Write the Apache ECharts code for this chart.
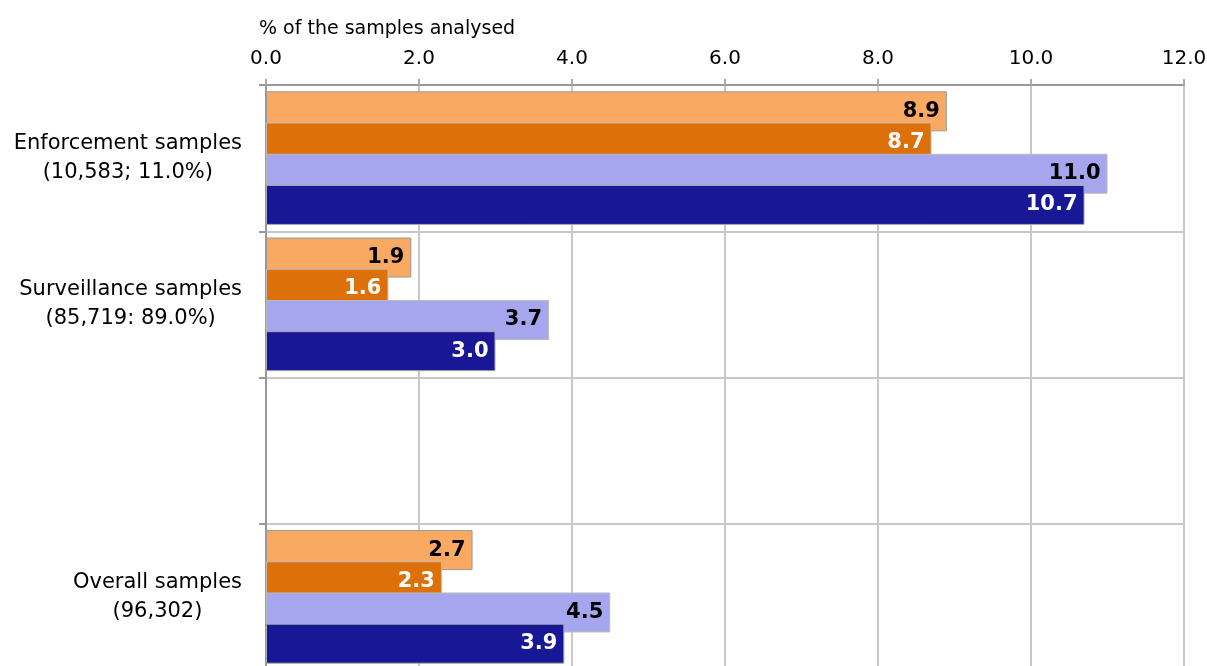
<!DOCTYPE html>
<html>
<head>
<meta charset="utf-8">
<script src="https://cdn.jsdelivr.net/npm/echarts@6/dist/echarts.min.js"></script>
<style>
html,body{margin:0;padding:0;background:#fff;}
#chart{width:1207px;height:666px;}
</style>
</head>
<body>
<div id="chart"></div>
<script>
const categories = [
  ["Enforcement samples", "(10,583; 11.0%)"],
  ["Surveillance samples", "(85,719: 89.0%)"],
  [""],
  ["Overall samples", "(96,302)"]
];
const seriesNames = ["Series 1", "Series 2", "Series 3", "Series 4"];
const series1 = [8.9, 1.9, null, 2.7];
const series2 = [8.7, 1.6, null, 2.3];
const series3 = [11.0, 3.7, null, 4.5];
const series4 = [10.7, 3.0, null, 3.9];
const xTicks = { min: 0, max: 12, interval: 2 };
const axisTitle = "% of the samples analysed";

const colors = ["#F9A962", "#DE7009", "#A6A6EF", "#181896"];
const labelColors = ["#000", "#fff", "#000", "#fff"];
const borderColors = ["#999", "#bbb", "#bbb", "#aaa"];
const allData = [series1, series2, series3, series4];

const FONT = "DejaVu Sans";
const chart = echarts.init(document.getElementById('chart'), null, { renderer: 'canvas' });

const series = allData.map((d, i) => ({
  name: seriesNames[i],
  type: 'bar',
  data: d,
  barWidth: 40,
  barGap: '-22%',
  itemStyle: { color: colors[i], borderColor: borderColors[i], borderWidth: 1 },
  label: {
    show: true,
    position: 'insideRight',
    distance: 7,
    color: labelColors[i],
    fontFamily: FONT,
    fontWeight: 'bold',
    fontSize: 21,
    formatter: p => (p.value == null ? '' : Number(p.value).toFixed(1))
  },
  animation: false
}));

chart.setOption({
  animation: false,
  backgroundColor: '#fff',
  title: {
    text: axisTitle,
    left: 254,
    top: 15,
    textStyle: { fontFamily: FONT, fontWeight: 'normal', fontSize: 19, color: '#000' }
  },
  grid: { left: 266, right: 23, top: 85, height: 585, containLabel: false, outerBoundsMode: 'none' },
  xAxis: {
    type: 'value',
    position: 'top',
    min: xTicks.min,
    max: xTicks.max,
    interval: xTicks.interval,
    axisLine: { show: true, lineStyle: { color: '#999', width: 2 } },
    axisTick: { show: true, length: 6, lineStyle: { color: '#aaa', width: 2 } },
    axisLabel: {
      margin: 16,
      fontFamily: FONT, fontSize: 20, color: '#000',
      formatter: v => v.toFixed(1)
    },
    splitLine: { show: true, lineStyle: { color: '#c8c8c8', width: 2 } }
  },
  yAxis: {
    type: 'category',
    inverse: true,
    data: categories.map(c => c.join('\n')),
    axisLine: { show: true, lineStyle: { color: '#999', width: 2 } },
    axisTick: { show: true, length: 7, lineStyle: { color: '#999', width: 2 } },
    splitLine: { show: true, lineStyle: { color: '#c8c8c8', width: 2 } },
    axisLabel: {
      margin: 24,
      align: 'right',
      formatter: v => v.split('\n').map(l => '{c|' + l + '}').join('\n'),
      rich: {
        c: { align: 'center', fontFamily: FONT, fontSize: 21, lineHeight: 29, color: '#000' }
      }
    }
  },
  series: series
});
</script>
</body>
</html>
